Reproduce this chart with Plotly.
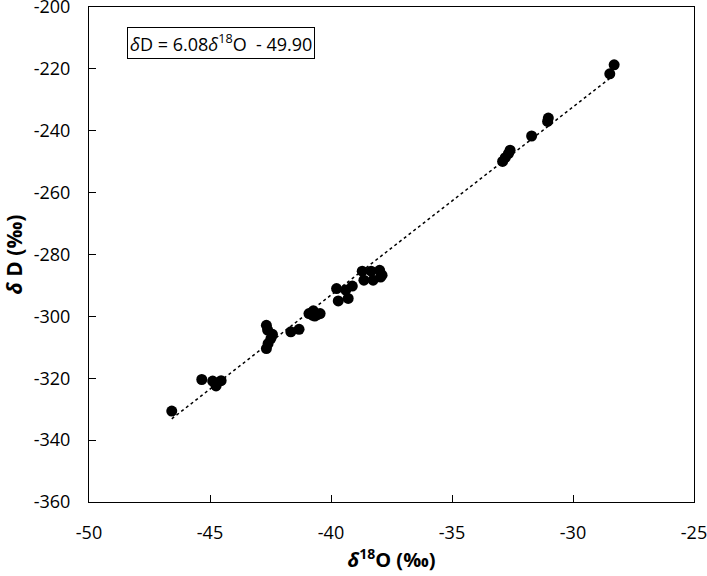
import numpy as np
import plotly.graph_objects as go

# delta 18O (permil) and delta D (permil)
d18o = [-46.58, -45.34, -44.89, -44.75, -44.54,
        -42.67, -42.62, -42.42, -42.48, -42.60, -42.67,
        -41.66, -41.32, -40.91, -40.73, -40.67, -40.56, -40.45, -40.77,
        -39.77, -39.70, -39.39, -39.29, -39.12,
        -38.71, -38.34, -37.99, -37.89, -38.64, -38.26, -37.95,
        -28.30, -28.48, -31.02, -31.05, -31.71,
        -32.60, -32.67, -32.80, -32.91]
dD = [-330.6, -320.4, -320.9, -322.5, -320.8,
      -302.9, -304.4, -305.8, -307.1, -308.8, -310.4,
      -305.0, -304.2, -299.1, -298.2, -299.9, -299.4, -299.1, -299.6,
      -291.0, -295.0, -291.5, -294.2, -290.2,
      -285.4, -285.4, -285.1, -286.7, -288.3, -288.3, -287.3,
      -218.7, -221.6, -235.9, -237.0, -241.7,
      -246.3, -247.4, -248.7, -249.9]

# linear fit shown in the box
slope = 6.08
intercept = -49.90

x_ticks = [-50, -45, -40, -35, -30, -25]
x_labels = ["-50", "-45", "-40", "-35", "-30", "-25"]
y_ticks = [-360, -340, -320, -300, -280, -260, -240, -220, -200]
y_labels = ["-360", "-340", "-320", "-300", "-280", "-260", "-240", "-220", "-200"]

font_name = "Open Sans"

fig = go.Figure()

# trend line over the data range
x_fit = np.array([min(d18o), max(d18o)])
fig.add_trace(
    go.Scatter(
        x=x_fit,
        y=slope * x_fit + intercept,
        mode="lines",
        line=dict(color="black", width=1.5, dash="dot"),
        hoverinfo="skip",
    )
)

fig.add_trace(
    go.Scatter(
        x=d18o,
        y=dD,
        mode="markers",
        marker=dict(color="black", size=11),
    )
)

fig.add_annotation(
    text="<i>δ</i>D = 6.08<i>δ</i><sup>18</sup>O \u00a0- 49.90",
    xref="paper", yref="paper",
    x=0.062, y=0.959,
    xanchor="left", yanchor="top",
    showarrow=False,
    bordercolor="black", borderwidth=1, borderpad=2,
    font=dict(family=font_name, size=18, color="black"),
)

axis_style = dict(
    showgrid=False,
    zeroline=False,
    showline=True,
    linecolor="black",
    linewidth=1,
    mirror=True,
    ticks="inside",
    ticklen=7,
    tickcolor="black",
    automargin=False,
    ticklabeloverflow="allow",
    tickfont=dict(family=font_name, size=18, color="black"),
)

fig.update_xaxes(
    range=[-50, -25],
    tickvals=x_ticks,
    ticktext=x_labels,
    ticklabelstandoff=14,
    title=dict(text="<b><i>δ</i><sup>18</sup>O (‰)</b>",
               font=dict(family=font_name, size=20, color="black"),
               standoff=10),
    **axis_style,
)
fig.update_yaxes(
    range=[-360, -200],
    tickvals=y_ticks,
    ticktext=y_labels,
    ticklabelstandoff=14,
    title=dict(text="<b><i>δ</i> D (‰)</b>",
               font=dict(family=font_name, size=21, color="black"),
               standoff=10),
    **axis_style,
)

fig.update_layout(
    width=707,
    height=576,
    margin=dict(l=89, r=13, t=7, b=74),
    plot_bgcolor="white",
    paper_bgcolor="white",
    showlegend=False,
)

# drop the browser's default body margin so the figure sits at the page corner
fig.write_html(
    "out.html",
    config={"displayModeBar": False},
    post_script="document.body.style.margin='0';document.body.style.overflow='hidden';",
)
